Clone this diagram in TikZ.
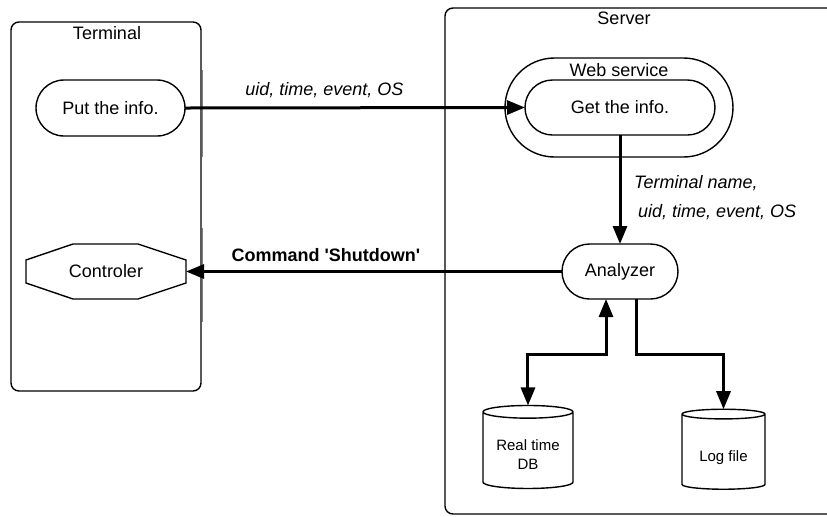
\documentclass[tikz,border=0pt]{standalone}
\usepackage{fontspec}
\setmainfont{Liberation Sans}
\usetikzlibrary{shapes.misc,shapes.geometric,arrows.meta}

\begin{document}
\begin{tikzpicture}[x=0.5pt,y=-0.5pt,
	every node/.style={font=\fontsize{9}{11}\selectfont},
	box/.style={draw,line width=0.7pt,rounded corners=4pt},
	proc/.style={draw,line width=0.7pt,rounded rectangle,inner sep=0,outer sep=0},
	store/.style={draw,line width=0.7pt,cylinder,shape border rotate=90,aspect=0.2,inner sep=0,outer sep=0,font=\fontsize{7.5}{9.5}\selectfont},
	flow/.style={line width=1.5pt,-{Triangle[length=9pt,width=7pt]}}]
	\useasboundingbox (0,0) rectangle (827,516);
	% terminal side
	\draw[box] (11,22) rectangle (201,391);
	\draw[gray,line width=0.5pt] (202.5,70) -- (202.5,157);
	\draw[gray,line width=0.5pt] (202.5,228) -- (202.5,322);
	\node (termtitle) at (107,33) {Terminal};
	\node[proc,minimum width=74.5pt,minimum height=28pt] (put) at (110.5,108) {Put the info.};
	\node[inner sep=0,outer sep=0,minimum width=80pt,minimum height=27.5pt] (ctrl) at (106,271.5) {Controler};
	\draw[line width=0.7pt] ([xshift=23.5pt]ctrl.north west) -- ([xshift=-24pt]ctrl.north east)
		-- ([yshift=-8pt]ctrl.north east) -- ([yshift=8pt]ctrl.south east)
		-- ([xshift=-24pt]ctrl.south east) -- ([xshift=23.5pt]ctrl.south west)
		-- ([yshift=8pt]ctrl.south west) -- ([yshift=-8pt]ctrl.north west) -- cycle;
	% server side
	\begin{scope}
		\clip (0,0) rectangle (827,516);
		\draw[box] (445,8) rectangle (860,514);
	\end{scope}
	\node (srvtitle) at (624,18) {Server};
	\node[proc,minimum width=114pt,minimum height=49.5pt] (web) at (619,107.5) {};
	\node (webtitle) at (619,70) {Web service};
	\node[proc,minimum width=95pt,minimum height=27.5pt] (get) at (620,107.5) {Get the info.};
	\node[proc,minimum width=58pt,minimum height=27.5pt] (analyzer) at (620,271.5) {Analyzer};
	\node[store,minimum width=45pt,minimum height=41.5pt] (db) at (528,450.5) {\raisebox{-3pt}[\height][\depth]{\begin{tabular}{@{}c@{}}Real time\\DB\end{tabular}}};
	\node[store,minimum width=41.5pt,minimum height=40pt] (log) at (723.5,452) {\raisebox{-3pt}[\height][\depth]{Log file}};
	% flows
	\draw[flow] (put.east) -- node[pos=0.41,above=1pt,font=\fontsize{9}{11}\itshape] {uid, time, event, OS} (get.west);
	\draw[flow] (get.south) -- node[pos=0.57,right=3pt,align=left,font=\fontsize{9}{14.5}\itshape] {Terminal name,\\\hspace*{2pt}uid, time, event, OS} (analyzer.north);
	\draw[flow] (analyzer.west) -- node[pos=0.628,above=1pt,font=\fontsize{9}{11}\bfseries] {Command \textquotesingle Shutdown\textquotesingle} (ctrl.east);
	\draw[flow,{Triangle[length=9pt,width=7pt]}-{Triangle[length=9pt,width=7pt]}] ([xshift=-7pt]analyzer.south) -- ++(0,55) -| (db.north);
	\draw[flow] ([xshift=8pt]analyzer.south) -- ++(0,55) -| (log.north);
\end{tikzpicture}
\end{document}
